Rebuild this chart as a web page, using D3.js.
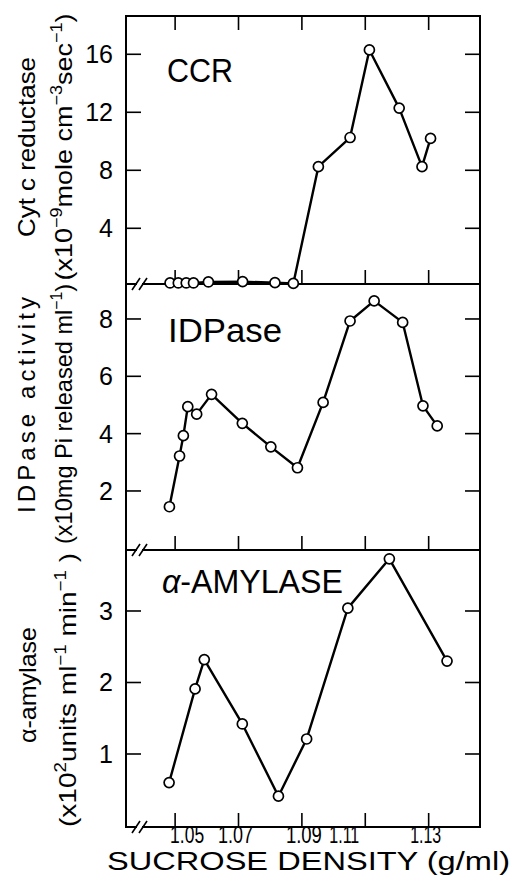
<!DOCTYPE html>
<html>
<head>
<meta charset="utf-8">
<script src="https://cdn.jsdelivr.net/npm/d3@7"></script>
<style>
  html, body { margin: 0; padding: 0; background: #fff; }
  svg { display: block; }
</style>
</head>
<body>
<svg id="chart" width="519" height="895"></svg>
<script>
// ---------------- DATA ----------------
const xTickValues = [1.05, 1.07, 1.09, 1.11, 1.13];
const xTickLabels = ["1.05", "1.07", "1.09", "1.11", "1.13"];

const ccrDensity = [1.0484, 1.0510, 1.0535, 1.0558, 1.0605, 1.0713, 1.0815, 1.0873, 1.0952, 1.1052, 1.1113, 1.1207, 1.1279, 1.1306];
const ccrValues  = [0.23, 0.23, 0.23, 0.23, 0.3, 0.32, 0.25, 0.2, 8.25, 10.26, 16.3, 12.29, 8.25, 10.2];
const ccrTicks = [4, 8, 12, 16];

const idpDensity = [1.0482, 1.0514, 1.0526, 1.0540, 1.0568, 1.0615, 1.0712, 1.0802, 1.0886, 1.0967, 1.1052, 1.1128, 1.1218, 1.1282, 1.1327];
const idpValues  = [1.45, 3.22, 3.93, 4.94, 4.68, 5.37, 4.36, 3.54, 2.81, 5.09, 7.93, 8.63, 7.88, 4.97, 4.27];
const idpTicks = [2, 4, 6, 8];

const amyDensity = [1.0481, 1.0563, 1.0592, 1.0712, 1.0826, 1.0915, 1.1045, 1.1176, 1.1358];
const amyValues  = [0.60, 1.91, 2.32, 1.42, 0.41, 1.21, 3.04, 3.73, 2.30];
const amyTicks = [1, 2, 3];

// ---------------- LAYOUT ----------------
const FONT = "'Liberation Sans', Arial, Helvetica, sans-serif";
const svg = d3.select("#chart");
const L = 126, R = 480;
const x = d3.scaleLinear().domain([1.0345, 1.1462]).range([L, R]);

const panels = [
  { name: "CCR", dens: ccrDensity, vals: ccrValues, ticks: ccrTicks,
    top: 16, bottom: 284, zero: 286.3, max: 18.64, topTicks: true,
    label: { x: 167, y: 82, size: 33, len: 66 } },
  { name: "IDPase", dens: idpDensity, vals: idpValues, ticks: idpTicks,
    top: 284, bottom: 550, zero: 548.3, max: 9.22, topTicks: false,
    label: { x: 168, y: 342, size: 34, len: 114 } },
  { name: "AMY", dens: amyDensity, vals: amyValues, ticks: amyTicks,
    top: 550, bottom: 827, zero: 825.5, max: 3.853, topTicks: false,
    label: { x: 162, y: 593, size: 34, len: 181 } }
];

const TICK = 14;

// Frame
svg.append("line").attr("x1", L).attr("x2", R).attr("y1", 16).attr("y2", 16)
  .attr("stroke", "#000").attr("stroke-width", 2);
svg.append("line").attr("x1", L).attr("x2", L).attr("y1", 15).attr("y2", 828)
  .attr("stroke", "#000").attr("stroke-width", 2);
svg.append("line").attr("x1", R).attr("x2", R).attr("y1", 15).attr("y2", 828)
  .attr("stroke", "#000").attr("stroke-width", 2);

panels.forEach(p => {
  const y = d3.scaleLinear().domain([0, p.max]).range([p.zero, p.top]);
  const g = svg.append("g");

  // bottom frame line
  g.append("line").attr("x1", L).attr("x2", R).attr("y1", p.bottom).attr("y2", p.bottom)
    .attr("stroke", "#000").attr("stroke-width", 2);

  // x ticks (pointing up from bottom)
  g.selectAll(".xtb").data(xTickValues).join("line")
    .attr("x1", d => x(d)).attr("x2", d => x(d))
    .attr("y1", p.bottom).attr("y2", p.bottom - TICK)
    .attr("stroke", "#000").attr("stroke-width", 1.6);
  if (p.topTicks) {
    g.selectAll(".xtt").data(xTickValues).join("line")
      .attr("x1", d => x(d)).attr("x2", d => x(d))
      .attr("y1", p.top).attr("y2", p.top + TICK)
      .attr("stroke", "#000").attr("stroke-width", 1.6);
  }

  // y ticks left and right
  g.selectAll(".ytl").data(p.ticks).join("line")
    .attr("x1", L).attr("x2", L + 15).attr("y1", d => y(d)).attr("y2", d => y(d))
    .attr("stroke", "#000").attr("stroke-width", 1.6);
  g.selectAll(".ytr").data(p.ticks).join("line")
    .attr("x1", R).attr("x2", R - 15).attr("y1", d => y(d)).attr("y2", d => y(d))
    .attr("stroke", "#000").attr("stroke-width", 1.6);

  // y tick labels
  g.selectAll(".ylab").data(p.ticks).join("text")
    .attr("x", 113).attr("y", d => y(d)).attr("dy", "0.36em")
    .attr("text-anchor", "end")
    .attr("font-family", FONT).attr("font-size", 25)
    .text(d => d);

  // data line
  const pts = p.dens.map((d, i) => [x(d), y(p.vals[i])]);
  g.append("path").datum(pts)
    .attr("d", d3.line())
    .attr("fill", "none").attr("stroke", "#000").attr("stroke-width", 2.4)
    .attr("stroke-linejoin", "round");
  g.selectAll("circle").data(pts).join("circle")
    .attr("cx", d => d[0]).attr("cy", d => d[1]).attr("r", 5)
    .attr("fill", "#fff").attr("stroke", "#000").attr("stroke-width", 1.7);

  // panel label
  const t = g.append("text")
    .attr("x", p.label.x).attr("y", p.label.y)
    .attr("font-family", FONT).attr("font-size", p.label.size)
    .attr("textLength", p.label.len).attr("lengthAdjust", "spacingAndGlyphs");
  if (p.name === "AMY") {
    t.append("tspan").attr("font-style", "italic").text("α");
    t.append("tspan").text("-AMYLASE");
  } else {
    t.text(p.name);
  }
});

// axis break marks on the horizontal boundaries
[284, 550, 827].forEach(yb => {
  svg.append("rect").attr("x", 137).attr("y", yb - 2).attr("width", 5).attr("height", 4).attr("fill", "#fff");
  [136, 143].forEach(xb => {
    svg.append("line").attr("x1", xb - 4).attr("y1", yb + 6).attr("x2", xb + 4).attr("y2", yb - 6)
      .attr("stroke", "#000").attr("stroke-width", 1.6);
  });
});

// x tick labels
const labelNudge = [12, -3, 2, -21, -3];
const labelWidth = [34, 35, 36, 30, 31];
svg.selectAll(".xlab").data(xTickValues).join("text")
  .attr("x", (d, i) => x(d) + labelNudge[i]).attr("y", 842.5)
  .attr("text-anchor", "middle")
  .attr("font-family", FONT).attr("font-size", 23)
  .attr("textLength", (d, i) => labelWidth[i]).attr("lengthAdjust", "spacingAndGlyphs")
  .text((d, i) => xTickLabels[i]);

// x title
svg.append("text").attr("x", 107).attr("y", 870)
  .attr("font-family", FONT).attr("font-size", 25)
  .attr("textLength", 403).attr("lengthAdjust", "spacingAndGlyphs")
  .text("SUCROSE DENSITY (g/ml)");

// y titles (rotated)
function yTitle(cx, cy, len, parts, adjust) {
  const t = svg.append("text")
    .attr("transform", `translate(${cx},${cy}) rotate(-90)`)
    .attr("text-anchor", "middle")
    .attr("font-family", FONT).attr("font-size", 24)
    .attr("textLength", len).attr("lengthAdjust", adjust || "spacingAndGlyphs");
  parts.forEach(pt => {
    const s = t.append("tspan").text(pt.t);
    if (pt.sup) s.attr("font-size", 16).attr("dy", -10);
    if (pt.down) s.attr("dy", 10);
  });
}

yTitle(35, 147, 180, [{ t: "Cyt c reductase" }]);
yTitle(72, 147, 267, [
  { t: "(x10" }, { t: "−9", sup: true }, { t: "mole cm", down: true },
  { t: "−3", sup: true }, { t: "sec", down: true }, { t: "−1", sup: true }, { t: ")", down: true }
]);

yTitle(35, 405, 216, [{ t: "IDPase  activity" }], "spacing");
yTitle(72, 414, 260, [
  { t: "(x10mg Pi released ml" }, { t: "−1", sup: true }, { t: ")", down: true }
]);

yTitle(36, 685, 116, [{ t: "α-amylase" }]);
yTitle(76, 690, 274, [
  { t: "(x10" }, { t: "2", sup: true }, { t: "units ml", down: true },
  { t: "−1", sup: true }, { t: " min", down: true }, { t: "−1", sup: true }, { t: " )", down: true }
]);
</script>
</body>
</html>
